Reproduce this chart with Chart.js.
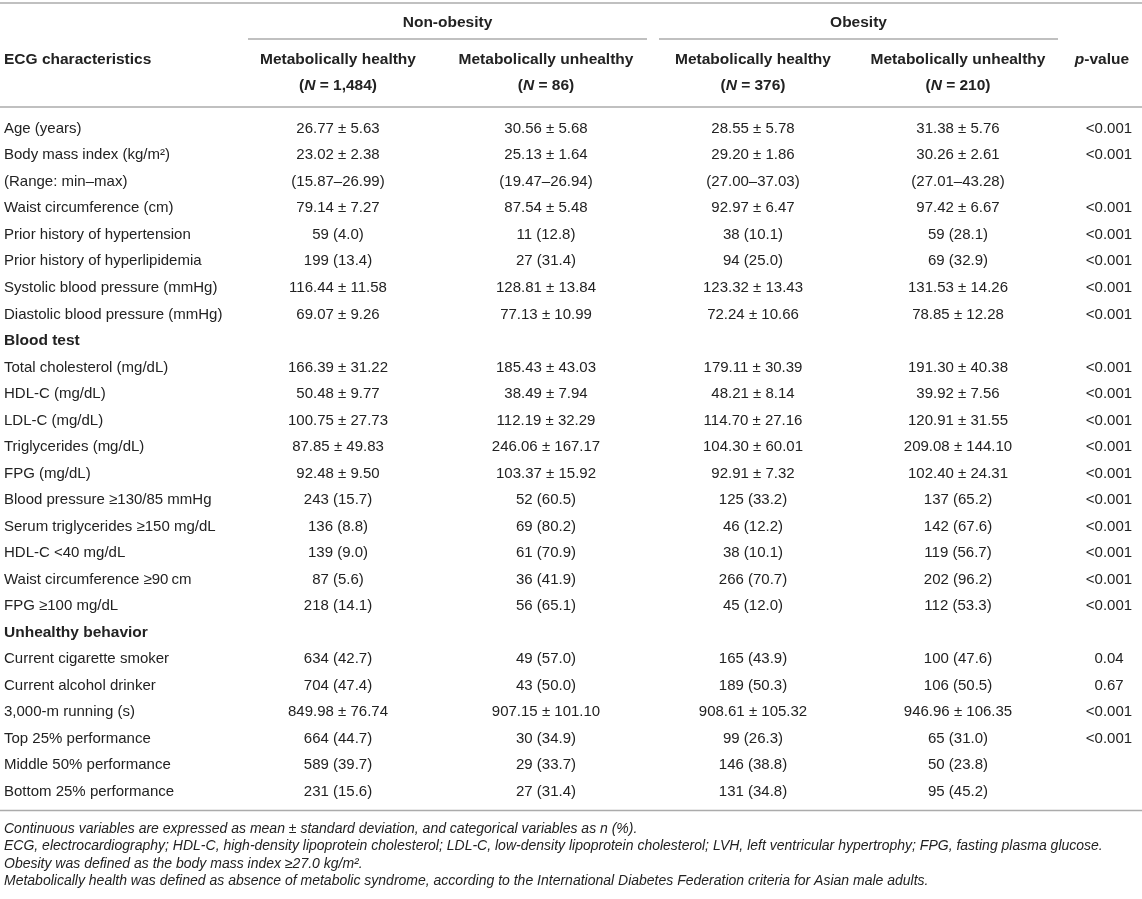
<!DOCTYPE html>
<html>
<head>
<meta charset="utf-8">
<script src="https://cdn.jsdelivr.net/npm/chart.js@4.4.0/dist/chart.umd.min.js"></script>
<style>
  html, body { margin: 0; padding: 0; background: #fff; }
</style>
</head>
<body>
<canvas id="tableChart" width="1142" height="899"></canvas>
<script>
// Table rows (categories, top to bottom)
const rowLabels = [
    'Age (years)',
    'Body mass index (kg/m\u00B2)',
    '(Range: min\u2013max)',
    'Waist circumference (cm)',
    'Prior history of hypertension',
    'Prior history of hyperlipidemia',
    'Systolic blood pressure (mmHg)',
    'Diastolic blood pressure (mmHg)',
    'Blood test',
    'Total cholesterol (mg/dL)',
    'HDL-C (mg/dL)',
    'LDL-C (mg/dL)',
    'Triglycerides (mg/dL)',
    'FPG (mg/dL)',
    'Blood pressure \u2265130/85 mmHg',
    'Serum triglycerides \u2265150 mg/dL',
    'HDL-C <40 mg/dL',
    'Waist circumference \u226590\u2009cm',
    'FPG \u2265100 mg/dL',
    'Unhealthy behavior',
    'Current cigarette smoker',
    'Current alcohol drinker',
    '3,000-m running (s)',
    'Top 25% performance',
    'Middle 50% performance',
    'Bottom 25% performance'
];
const sectionRows = ['Blood test', 'Unhealthy behavior'];

// Series values, one array per column
const nonObHealthy = [
    '26.77 \u00B1 5.63', '23.02 \u00B1 2.38', '(15.87\u201326.99)', '79.14 \u00B1 7.27',
    '59 (4.0)', '199 (13.4)', '116.44 \u00B1 11.58', '69.07 \u00B1 9.26', '',
    '166.39 \u00B1 31.22', '50.48 \u00B1 9.77', '100.75 \u00B1 27.73', '87.85 \u00B1 49.83',
    '92.48 \u00B1 9.50', '243 (15.7)', '136 (8.8)', '139 (9.0)', '87 (5.6)', '218 (14.1)', '',
    '634 (42.7)', '704 (47.4)', '849.98 \u00B1 76.74', '664 (44.7)', '589 (39.7)', '231 (15.6)'
];
const nonObUnhealthy = [
    '30.56 \u00B1 5.68', '25.13 \u00B1 1.64', '(19.47\u201326.94)', '87.54 \u00B1 5.48',
    '11 (12.8)', '27 (31.4)', '128.81 \u00B1 13.84', '77.13 \u00B1 10.99', '',
    '185.43 \u00B1 43.03', '38.49 \u00B1 7.94', '112.19 \u00B1 32.29', '246.06 \u00B1 167.17',
    '103.37 \u00B1 15.92', '52 (60.5)', '69 (80.2)', '61 (70.9)', '36 (41.9)', '56 (65.1)', '',
    '49 (57.0)', '43 (50.0)', '907.15 \u00B1 101.10', '30 (34.9)', '29 (33.7)', '27 (31.4)'
];
const obHealthy = [
    '28.55 \u00B1 5.78', '29.20 \u00B1 1.86', '(27.00\u201337.03)', '92.97 \u00B1 6.47',
    '38 (10.1)', '94 (25.0)', '123.32 \u00B1 13.43', '72.24 \u00B1 10.66', '',
    '179.11 \u00B1 30.39', '48.21 \u00B1 8.14', '114.70 \u00B1 27.16', '104.30 \u00B1 60.01',
    '92.91 \u00B1 7.32', '125 (33.2)', '46 (12.2)', '38 (10.1)', '266 (70.7)', '45 (12.0)', '',
    '165 (43.9)', '189 (50.3)', '908.61 \u00B1 105.32', '99 (26.3)', '146 (38.8)', '131 (34.8)'
];
const obUnhealthy = [
    '31.38 \u00B1 5.76', '30.26 \u00B1 2.61', '(27.01\u201343.28)', '97.42 \u00B1 6.67',
    '59 (28.1)', '69 (32.9)', '131.53 \u00B1 14.26', '78.85 \u00B1 12.28', '',
    '191.30 \u00B1 40.38', '39.92 \u00B1 7.56', '120.91 \u00B1 31.55', '209.08 \u00B1 144.10',
    '102.40 \u00B1 24.31', '137 (65.2)', '142 (67.6)', '119 (56.7)', '202 (96.2)', '112 (53.3)', '',
    '100 (47.6)', '106 (50.5)', '946.96 \u00B1 106.35', '65 (31.0)', '50 (23.8)', '95 (45.2)'
];
const pValues = [
    '<0.001', '<0.001', '', '<0.001', '<0.001', '<0.001', '<0.001', '<0.001', '',
    '<0.001', '<0.001', '<0.001', '<0.001', '<0.001', '<0.001', '<0.001', '<0.001', '<0.001', '<0.001', '',
    '0.04', '0.67', '<0.001', '<0.001', '', ''
];

// Header texts
const groupLabels = ['Non-obesity', 'Obesity'];
const columnHeaders = ['Metabolically healthy', 'Metabolically unhealthy', 'Metabolically healthy', 'Metabolically unhealthy'];
const groupSizes = ['1,484', '86', '376', '210'];

const footnotes = [
    'Continuous variables are expressed as mean \u00B1 standard deviation, and categorical variables as n (%).',
    'ECG, electrocardiography; HDL-C, high-density lipoprotein cholesterol; LDL-C, low-density lipoprotein cholesterol; LVH, left ventricular hypertrophy; FPG, fasting plasma glucose.',
    'Obesity was defined as the body mass index \u226527.0 kg/m\u00B2.',
    'Metabolically health was defined as absence of metabolic syndrome, according to the International Diabetes Federation criteria for Asian male adults.'
];

// Layout (x scale units = page width)
const columnValues = [rowLabels, nonObHealthy, nonObUnhealthy, obHealthy, obUnhealthy, pValues];
const columnX = [4, 338, 546, 753, 958, 1109];
const pHeaderX = 1102;
const groupSpans = [[248, 647], [659, 1058]];
const FONT = '"Liberation Sans", Arial, Helvetica, sans-serif';
const TEXT = '#222222';
const RULE = '#ababab';

function drawRich(ctx, segs, x, y, align) {
    let total = 0;
    segs.forEach(s => { ctx.font = s.f; s.w = ctx.measureText(s.t).width; total += s.w; });
    let cx = align === 'center' ? x - total / 2 : (align === 'right' ? x - total : x);
    ctx.textAlign = 'left';
    segs.forEach(s => { ctx.font = s.f; ctx.fillText(s.t, cx, y); cx += s.w; });
}

// Draws cell texts at the points placed by the scales, plus header and notes
const tablePlugin = {
    id: 'tableText',
    afterDraw(chart) {
        const ctx = chart.ctx;
        const xs = chart.scales.x;
        const area = chart.chartArea;
        ctx.save();
        ctx.fillStyle = TEXT;
        ctx.textBaseline = 'middle';

        const bold = 'bold 15.5px ' + FONT;
        const boldIt = 'italic bold 15.5px ' + FONT;

        chart.data.datasets.forEach((ds, c) => {
            const meta = chart.getDatasetMeta(c);
            meta.data.forEach((pt, i) => {
                const txt = columnValues[c][i];
                if (!txt) return;
                const isSection = c === 0 && sectionRows.includes(txt);
                ctx.font = isSection ? bold : '15px ' + FONT;
                ctx.textAlign = c === 0 ? 'left' : 'center';
                ctx.fillText(txt, pt.x, pt.y);
            });
        });

        // header
        ctx.textAlign = 'center';
        ctx.font = bold;
        groupLabels.forEach((g, k) => {
            const mid = (xs.getPixelForValue(groupSpans[k][0]) + xs.getPixelForValue(groupSpans[k][1])) / 2;
            ctx.fillText(g, mid, area.top - 92.5);
        });
        ctx.textAlign = 'left';
        ctx.fillText('ECG characteristics', xs.getPixelForValue(columnX[0]), area.top - 56);
        columnHeaders.forEach((h, k) => {
            const x = xs.getPixelForValue(columnX[k + 1]);
            ctx.textAlign = 'center';
            ctx.font = bold;
            ctx.fillText(h, x, area.top - 56);
            drawRich(ctx, [{ t: '(', f: bold }, { t: 'N', f: boldIt }, { t: ' = ' + groupSizes[k] + ')', f: bold }], x, area.top - 29.5, 'center');
        });
        drawRich(ctx, [{ t: 'p', f: boldIt }, { t: '-value', f: bold }], xs.getPixelForValue(pHeaderX), area.top - 56, 'center');

        // rules
        ctx.strokeStyle = RULE;
        ctx.lineWidth = 1.5;
        const hline = (x0, x1, y) => { ctx.beginPath(); ctx.moveTo(x0, y); ctx.lineTo(x1, y); ctx.stroke(); };
        hline(0, chart.width, area.top - 112.5);
        groupSpans.forEach(s => hline(xs.getPixelForValue(s[0]), xs.getPixelForValue(s[1]), area.top - 76.5));
        hline(0, chart.width, area.top - 8.5);
        hline(0, chart.width, area.bottom + 5.5);

        // footnotes
        ctx.font = 'italic 14px ' + FONT;
        ctx.textAlign = 'left';
        const noteY = [24, 41.5, 59, 76.5];
        footnotes.forEach((n, k) => ctx.fillText(n, xs.getPixelForValue(columnX[0]), area.bottom + noteY[k]));
        ctx.restore();
    }
};

const ctx = document.getElementById('tableChart').getContext('2d');
const tableChart = new Chart(ctx, {
    type: 'scatter',
    data: {
        datasets: columnValues.map((vals, c) => ({
            label: 'col' + c,
            data: rowLabels.map((lab, i) => ({ x: columnX[c], y: lab })),
            pointRadius: 0,
            pointHoverRadius: 0
        }))
    },
    options: {
        responsive: false,
        animation: false,
        events: [],
        layout: { padding: { top: 115.5, bottom: 94, left: 0, right: 0 } },
        plugins: {
            legend: { display: false },
            tooltip: { enabled: false }
        },
        scales: {
            x: { type: 'linear', min: 0, max: 1142, display: false },
            y: { type: 'category', labels: rowLabels, offset: true, display: false }
        }
    },
    plugins: [tablePlugin]
});
</script>
</body>
</html>
